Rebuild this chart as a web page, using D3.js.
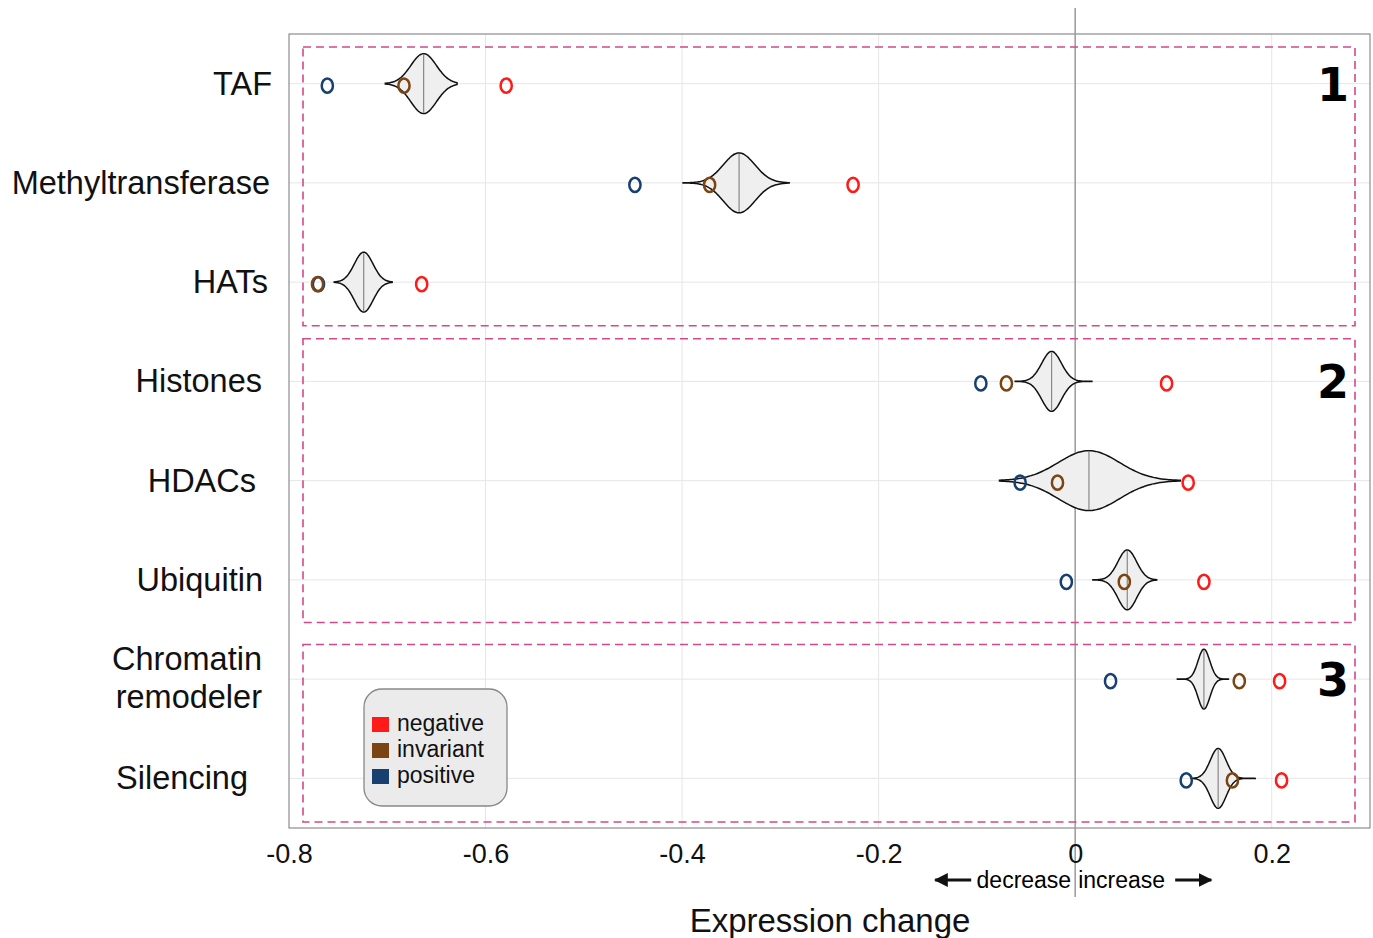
<!DOCTYPE html>
<html>
<head>
<meta charset="utf-8">
<script src="https://cdn.jsdelivr.net/npm/d3@7"></script>
<style>
  body { margin: 0; background: #fff; }
  text { font-family: "Liberation Sans", Arial, sans-serif; }
</style>
</head>
<body>
<svg id="chart" width="1373" height="938"></svg>
<script>
// valores
var categories = ["TAF", "Methyltransferase", "HATs", "Histones", "HDACs", "Ubiquitin", "Chromatin remodeler", "Silencing"];
var negative  = [-0.579, -0.226, -0.665, 0.093, 0.115, 0.131, 0.208, 0.210];
var invariant = [-0.683, -0.372, -0.771, -0.070, -0.018, 0.050, 0.167, 0.160];
var positive  = [-0.761, -0.448, -0.770, -0.096, -0.056, -0.009, 0.036, 0.113];

var violinMin    = [-0.702, -0.399, -0.754, -0.061, -0.077, 0.018, 0.104, 0.118];
var violinMax    = [-0.629, -0.291, -0.695, 0.017, 0.107, 0.083, 0.156, 0.184];
var violinMedian = [-0.663, -0.342, -0.724, -0.024, 0.014, 0.053, 0.131, 0.1455];
var violinSpread = [0.013, 0.016, 0.0095, 0.010, 0.031, 0.0095, 0.006, 0.008];

var xTicks = [-0.8, -0.6, -0.4, -0.2, 0, 0.2];
var groups = [{label: "1", from: 0, to: 2}, {label: "2", from: 3, to: 5}, {label: "3", from: 6, to: 7}];
var legendItems = ["negative", "invariant", "positive"];
var colors = {negative: "#ff1a1a", invariant: "#7a4512", positive: "#173f70"};

// deslocamento de cada rótulo (no original eles nao estao bem alinhados)
var labelShift = [4, 2, 0, -6, -12, -5, -6, -20];

var svg = d3.select("#chart");
var padding = {top: 34, right: 3, bottom: 110, left: 289};
var chartArea = {
    "width": 1373 - padding.left - padding.right,
    "height": 938 - padding.top - padding.bottom
};

var xScale = d3.scaleLinear().domain([-0.8, 0.3]).range([0, chartArea.width]);
var yScale = d3.scaleBand().domain(categories).range([0, chartArea.height]).padding(0);
var hScale = d3.scaleLinear().domain([0, 1]).range([0, 30]);

var g = svg.append("g").attr("transform", "translate(" + padding.left + "," + padding.top + ")");

// grade
g.append("g").selectAll("line").data(xTicks.filter(function(t){ return t != 0 && t != -0.8; })).enter()
    .append("line")
    .attr("x1", function(d){ return xScale(d); }).attr("x2", function(d){ return xScale(d); })
    .attr("y1", 0).attr("y2", chartArea.height)
    .attr("stroke", "#e6e6e6").attr("stroke-width", 1);
g.append("g").selectAll("line").data(categories).enter()
    .append("line")
    .attr("x1", 0).attr("x2", chartArea.width)
    .attr("y1", function(d){ return yScale(d) + yScale.bandwidth()/2; })
    .attr("y2", function(d){ return yScale(d) + yScale.bandwidth()/2; })
    .attr("stroke", "#e6e6e6").attr("stroke-width", 1);

// moldura
g.append("rect").attr("x", 0).attr("y", 0)
    .attr("width", chartArea.width).attr("height", chartArea.height)
    .attr("fill", "none").attr("stroke", "#777").attr("stroke-width", 1);

// linha do zero
g.append("line")
    .attr("x1", xScale(0)).attr("x2", xScale(0))
    .attr("y1", -26).attr("y2", chartArea.height + 69)
    .attr("stroke", "#999").attr("stroke-width", 1.5);

// caixas tracejadas
var boxOffsets = [[13, -6], [7, -7], [15, -6]];
g.append("g").selectAll("rect").data(groups).enter()
    .append("rect")
    .attr("x", xScale(-0.8) + 14)
    .attr("y", function(d, i){ return yScale(categories[d.from]) + boxOffsets[i][0]; })
    .attr("width", chartArea.width - 14 - 15)
    .attr("height", function(d, i){
        return yScale(categories[d.to]) + yScale.bandwidth() + boxOffsets[i][1] - yScale(categories[d.from]) - boxOffsets[i][0];
    })
    .attr("fill", "none").attr("stroke", "#d4488c").attr("stroke-width", 1.6)
    .attr("stroke-dasharray", "8,5");

g.append("g").selectAll("text").data(groups).enter()
    .append("text")
    .attr("x", chartArea.width - 37)
    .attr("y", function(d){ return yScale(categories[d.from]) + yScale.bandwidth()/2 + 17; })
    .attr("text-anchor", "middle")
    .style("font-family", "'DejaVu Sans', sans-serif")
    .style("font-weight", "bold")
    .style("font-size", "46px")
    .text(function(d){ return d.label; });

// violinos
var violins = categories.map(function(c, i){
    var pts = [];
    var n = 80;
    for (var k = 0; k <= n; k++) {
        var v = violinMin[i] + (violinMax[i] - violinMin[i]) * k / n;
        var z = (v - violinMedian[i]) / violinSpread[i];
        pts.push({v: v, h: Math.exp(-0.5 * z * z)});
    }
    return {cat: c, pts: pts, median: violinMedian[i]};
});

var vg = g.append("g");
violins.forEach(function(vd){
    var cy = yScale(vd.cat) + yScale.bandwidth()/2;
    var area = d3.area()
        .x(function(p){ return xScale(p.v); })
        .y0(function(p){ return cy + hScale(p.h); })
        .y1(function(p){ return cy - hScale(p.h); })
        .curve(d3.curveBasis);
    vg.append("path").datum(vd.pts)
        .attr("d", area)
        .attr("fill", "#efefef").attr("stroke", "#111").attr("stroke-width", 1.5);
    vg.append("line")
        .attr("x1", xScale(vd.median)).attr("x2", xScale(vd.median))
        .attr("y1", cy - hScale(1) + 1).attr("y2", cy + hScale(1) - 1)
        .attr("stroke", "#888").attr("stroke-width", 1.2);
});

// pontos
var series = [["positive", positive], ["invariant", invariant], ["negative", negative]];
series.forEach(function(s){
    g.append("g").selectAll("ellipse").data(s[1]).enter()
        .append("ellipse")
        .attr("cx", function(d){ return xScale(d); })
        .attr("cy", function(d, i){ return yScale(categories[i]) + yScale.bandwidth()/2 + 2; })
        .attr("rx", 5.6).attr("ry", 7.1)
        .attr("fill", "none").attr("stroke", colors[s[0]]).attr("stroke-width", 2.5);
});

// rótulos do eixo y
var ylab = g.append("g");
categories.forEach(function(c, i){
    var cy = yScale(c) + yScale.bandwidth()/2;
    var words = c == "Chromatin remodeler" ? ["Chromatin", "remodeler"] : [c];
    var t = ylab.append("text")
        .attr("text-anchor", "end")
        .attr("y", cy)
        .style("font-size", "32.5px")
        .style("fill", "#111");
    words.forEach(function(w, j){
        t.append("tspan").attr("x", -21 + labelShift[i]).attr("dy", j == 0 ? (words.length == 1 ? 11 : -9) : 38).text(w);
    });
});

// eixo x
var xAxis = g.append("g")
    .attr("transform", "translate(0," + chartArea.height + ")")
    .call(d3.axisBottom(xScale).tickValues(xTicks).tickSize(0).tickPadding(16)
        .tickFormat(function(d){ return d == 0 ? "0" : d3.format(".1f")(d).replace("\u2212", "-"); }));
xAxis.select(".domain").remove();
xAxis.selectAll("text").style("font-size", "27px").style("fill", "#111")
    .style("font-family", "'Liberation Sans', Arial, sans-serif");

// setas decrease / increase
var ay = chartArea.height + 52;
var ann = g.append("g");
ann.append("text").attr("x", xScale(0) - 4).attr("y", ay + 8).attr("text-anchor", "end")
    .style("font-size", "23px").text("decrease");
ann.append("text").attr("x", xScale(0) + 3).attr("y", ay + 8).attr("text-anchor", "start")
    .style("font-size", "23px").text("increase");
svg.append("defs").append("marker")
    .attr("id", "arrow").attr("viewBox", "0 0 10 10").attr("refX", 9).attr("refY", 5)
    .attr("markerWidth", 5).attr("markerHeight", 5).attr("orient", "auto")
    .append("path").attr("d", "M0,0 L10,5 L0,10 z").attr("fill", "#111");
ann.append("line").attr("x1", xScale(0) - 104).attr("x2", xScale(0) - 140)
    .attr("y1", ay).attr("y2", ay).attr("stroke", "#111").attr("stroke-width", 2.8)
    .attr("marker-end", "url(#arrow)");
ann.append("line").attr("x1", xScale(0) + 100).attr("x2", xScale(0) + 136)
    .attr("y1", ay).attr("y2", ay).attr("stroke", "#111").attr("stroke-width", 2.8)
    .attr("marker-end", "url(#arrow)");

svg.append("text")
    .attr("x", 830).attr("y", 932)
    .attr("text-anchor", "middle")
    .style("font-size", "33px").style("fill", "#111")
    .text("Expression change");

// legenda
var leg = svg.append("g").attr("transform", "translate(364,689)");
leg.append("rect").attr("width", 143).attr("height", 117).attr("rx", 18)
    .attr("fill", "#ebebeb").attr("stroke", "#888").attr("stroke-width", 1.3);
legendItems.forEach(function(k, i){
    leg.append("rect").attr("x", 8).attr("y", 28 + i*26).attr("width", 17).attr("height", 15)
        .attr("fill", colors[k]);
    leg.append("text").attr("x", 33).attr("y", 42 + i*26)
        .style("font-size", "23px").style("fill", "#111").text(k);
});
</script>
</body>
</html>
